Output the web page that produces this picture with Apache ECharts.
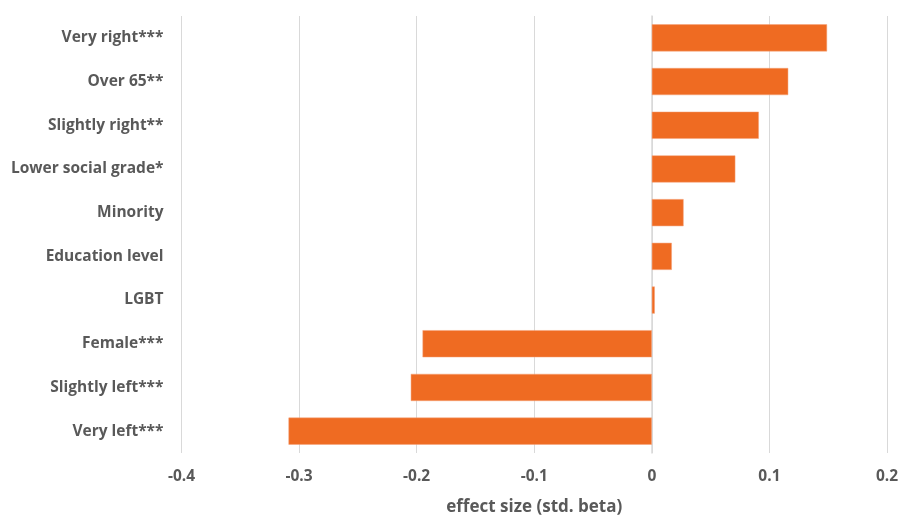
<!DOCTYPE html>
<html>
<head>
<meta charset="utf-8">
<script src="https://cdn.jsdelivr.net/npm/echarts@6/dist/echarts.min.js"></script>
<style>html,body{margin:0;padding:0;background:#fff;}#c{width:899px;height:517px;}</style>
</head>
<body>
<div id="c"></div>
<script>
var categories = ["Very right***", "Over 65**", "Slightly right**", "Lower social grade*", "Minority", "Education level", "LGBT", "Female***", "Slightly left***", "Very left***"];
var effects = [0.149, 0.116, 0.091, 0.071, 0.027, 0.017, 0.0025, -0.195, -0.205, -0.309];
var axisTitle = "effect size (std. beta)";

var chart = echarts.init(document.getElementById('c'));
var textColor = '#595959';
var font = '"Open Sans", Lato, sans-serif';
chart.setOption({
  animation: false,
  grid: {left: 181.5, right: 12, top: 16, bottom: 64, containLabel: false, outerBoundsMode: 'none'},
  xAxis: {
    type: 'value', min: -0.4, max: 0.2, interval: 0.1,
    name: axisTitle, nameLocation: 'middle', nameGap: 46,
    nameTextStyle: {color: textColor, fontSize: 17, fontWeight: 'bold', fontFamily: font},
    axisLine: {show: false}, axisTick: {show: false},
    axisLabel: {color: textColor, fontSize: 15.5, fontWeight: 'bold', fontFamily: font, margin: 16,
      formatter: function (v) { return String(+v.toFixed(1)); }},
    splitLine: {show: true, lineStyle: {color: '#d9d9d9', width: 1}}
  },
  yAxis: {
    type: 'category', data: categories, inverse: true,
    axisLine: {show: true, onZero: true, lineStyle: {color: '#d9d9d9', width: 1.5}},
    axisTick: {show: false},
    axisLabel: {color: textColor, fontSize: 15.5, fontWeight: 'bold', fontFamily: font, margin: 18}
  },
  series: [{
    type: 'bar', data: effects, barCategoryGap: '38%',
    itemStyle: {color: '#EF6B22', borderColor: '#F5A27A', borderWidth: 0.5}
  }]
});
</script>
</body>
</html>
